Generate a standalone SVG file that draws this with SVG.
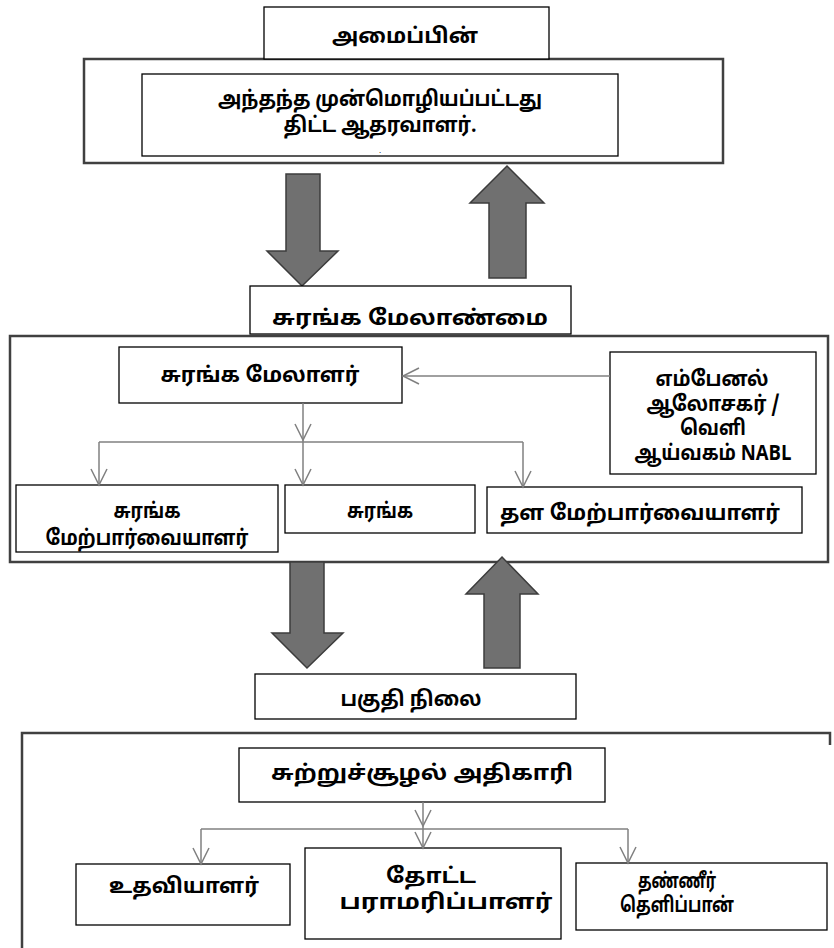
<svg xmlns="http://www.w3.org/2000/svg" width="834" height="948" viewBox="0 0 834 948">
  <style>
    .frame { fill: #ffffff; stroke: #404040; stroke-width: 2.5; }
    .edge { fill: none; stroke: #404040; stroke-width: 2.5; }
    .box { fill: #ffffff; stroke: #000000; stroke-width: 1.3; }
    .block { fill: #707070; stroke: #3c3c3c; stroke-width: 1.5; stroke-linejoin: miter; }
    .link { fill: none; stroke: #808080; stroke-width: 1.5; }
    text { font-family: "Noto Sans Tamil", "Noto Sans", "Liberation Sans", sans-serif; font-weight: bold; font-size: 21px; fill: #000000; text-anchor: middle; }
    .mark { font-family: "Liberation Sans", sans-serif; font-size: 6px; }
  </style>
  <defs>
    <marker id="open" markerUnits="userSpaceOnUse" markerWidth="20" markerHeight="20" viewBox="-18 -10 20 20" refX="0" refY="0" orient="auto">
      <path d="M-16,-8 L0,0 L-16,8" fill="none" stroke="#808080" stroke-width="1.5"/>
    </marker>
  </defs>

  <!-- outer frames -->
  <rect id="frame-top" class="frame" x="84" y="59" width="639" height="104"/>
  <rect id="frame-mid" class="frame" x="10" y="336" width="818" height="226"/>
  <path id="frame-bottom" class="edge" d="M22,960 V733 H830 V745"/>

  <!-- block arrows between levels -->
  <g id="flow">
    <path class="block" d="M286,174 H320 V251 H338 L302,286 L267,251 H286 Z"/>
    <path class="block" d="M507,166 L544,203 H526 V278 H489 V203 H470 Z"/>
    <path class="block" d="M290,562 H324 V633 H343 L307,668 L272,633 H290 Z"/>
    <path class="block" d="M502,557 L538,594 H520 V668 H484 V594 H466 Z"/>
  </g>

  <g id="n-amaippin">
    <rect class="box" x="264" y="7" width="285" height="52"/>
    <text x="405" y="43" font-size="22" textLength="146" lengthAdjust="spacingAndGlyphs">அமைப்பின்</text>
  </g>
  <g id="n-proponent">
    <rect class="box" x="142" y="74" width="476" height="82"/>
    <text x="380" y="106" textLength="324" lengthAdjust="spacingAndGlyphs">அந்தந்த முன்மொழியப்பட்டது</text>
    <text x="380" y="132" textLength="193" lengthAdjust="spacingAndGlyphs">திட்ட ஆதரவாளர்.</text>
    <text class="mark" x="380" y="153">.</text>
  </g>
  <g id="n-mine-management">
    <rect class="box" x="250" y="286" width="321" height="48"/>
    <text x="410" y="325" font-size="22" textLength="276" lengthAdjust="spacingAndGlyphs">சுரங்க மேலாண்மை</text>
  </g>
  <g id="n-mine-manager">
    <rect class="box" x="119" y="347" width="283" height="56"/>
    <text x="260" y="382" textLength="199" lengthAdjust="spacingAndGlyphs">சுரங்க மேலாளர்</text>
  </g>
  <g id="n-consultant">
    <rect class="box" x="610" y="352" width="206" height="122"/>
    <text x="712" y="386" textLength="113" lengthAdjust="spacingAndGlyphs">எம்பேனல்</text>
    <text x="713" y="411" textLength="133" lengthAdjust="spacingAndGlyphs">ஆலோசகர் /</text>
    <text x="713" y="435" textLength="66" lengthAdjust="spacingAndGlyphs">வெளி</text>
    <text x="713" y="460" textLength="157" lengthAdjust="spacingAndGlyphs">ஆய்வகம் NABL</text>
  </g>
  <g id="n-mine-supervisor">
    <rect class="box" x="16" y="485" width="262" height="67"/>
    <text x="147" y="518" textLength="67" lengthAdjust="spacingAndGlyphs">சுரங்க</text>
    <text x="147" y="545" textLength="203" lengthAdjust="spacingAndGlyphs">மேற்பார்வையாளர்</text>
  </g>
  <g id="n-mine">
    <rect class="box" x="285" y="485" width="190" height="48"/>
    <text x="380" y="518" textLength="66" lengthAdjust="spacingAndGlyphs">சுரங்க</text>
  </g>
  <g id="n-floor-supervisor">
    <rect class="box" x="487" y="487" width="315" height="46"/>
    <text x="640" y="520" textLength="280" lengthAdjust="spacingAndGlyphs">தள மேற்பார்வையாளர்</text>
  </g>
  <g id="n-site-level">
    <rect class="box" x="255" y="674" width="321" height="45"/>
    <text x="411" y="706" textLength="141" lengthAdjust="spacingAndGlyphs">பகுதி நிலை</text>
  </g>
  <g id="n-env-officer">
    <rect class="box" x="239" y="748" width="366" height="54"/>
    <text x="422" y="780" font-size="22" textLength="302" lengthAdjust="spacingAndGlyphs">சுற்றுச்சூழல் அதிகாரி</text>
  </g>
  <g id="n-assistant">
    <rect class="box" x="76" y="864" width="214" height="61"/>
    <text x="184" y="893" font-size="22" textLength="150" lengthAdjust="spacingAndGlyphs">உதவியாளர்</text>
  </g>
  <g id="n-gardener">
    <rect class="box" x="305" y="848" width="256" height="91"/>
    <text x="431" y="883" font-size="22" textLength="90" lengthAdjust="spacingAndGlyphs">தோட்ட</text>
    <text x="446" y="909" font-size="22" textLength="213" lengthAdjust="spacingAndGlyphs">பராமரிப்பாளர்</text>
  </g>
  <g id="n-water-sprayer">
    <rect class="box" x="576" y="863" width="251" height="67"/>
    <text x="677" y="888" textLength="78" lengthAdjust="spacingAndGlyphs">தண்ணீர்</text>
    <text x="677" y="912" textLength="114" lengthAdjust="spacingAndGlyphs">தெளிப்பான்</text>
  </g>

  <!-- thin connectors -->
  <g id="connectors">
    <path class="link" d="M610,376 H403" marker-end="url(#open)"/>
    <path class="link" d="M303,403 V440" marker-end="url(#open)"/>
    <path class="link" d="M303,440 V442"/>
    <path class="link" d="M99,442 H523"/>
    <path class="link" d="M99,442 V485" marker-end="url(#open)"/>
    <path class="link" d="M303,442 V485" marker-end="url(#open)"/>
    <path class="link" d="M523,442 V487" marker-end="url(#open)"/>
    <path class="link" d="M423,802 V826" marker-end="url(#open)"/>
    <path class="link" d="M201,829 H628"/>
    <path class="link" d="M201,829 V864" marker-end="url(#open)"/>
    <path class="link" d="M423,826 V848" marker-end="url(#open)"/>
    <path class="link" d="M628,829 V863" marker-end="url(#open)"/>
  </g>
</svg>
